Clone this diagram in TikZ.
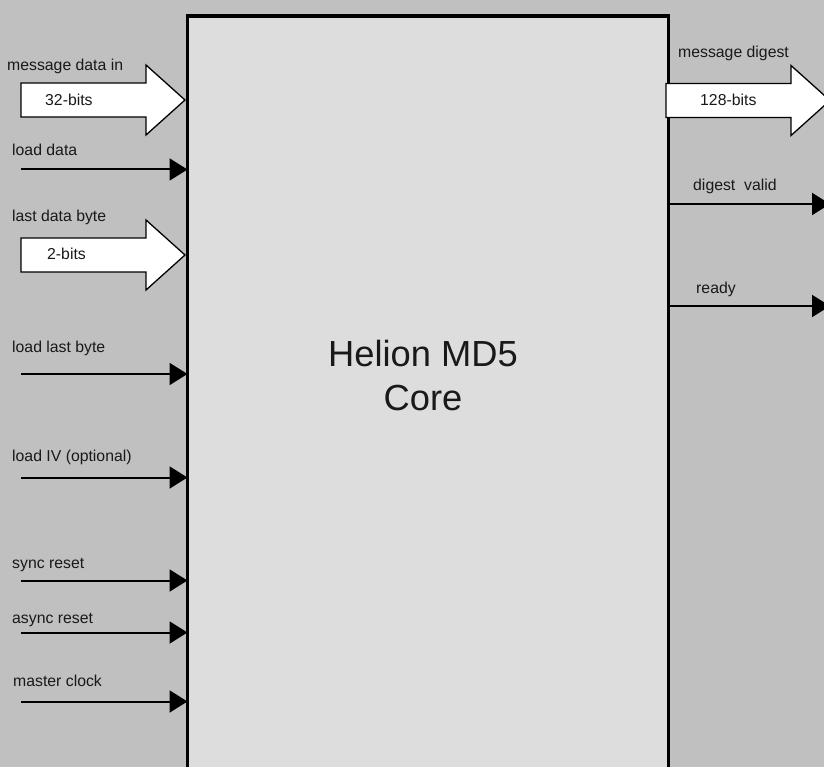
\documentclass[tikz,border=0pt]{standalone}
\usepackage{fontspec}
\setmainfont{Liberation Sans}
\usetikzlibrary{arrows.meta}
\definecolor{bg}{HTML}{C0C0C0}
\definecolor{corefill}{HTML}{DDDDDD}
\begin{document}
\begin{tikzpicture}[x=1pt,y=-1pt,
  lbl/.style={anchor=base west,inner sep=0pt,font=\fontsize{15.8}{19}\selectfont,text=black!90},
  sig/.style={line width=2pt,-{Triangle[length=18pt,width=22pt]}},
  corebox/.style={draw,line width=3.5pt,fill=corefill,anchor=north west,minimum width=481pt,minimum height=800pt,inner sep=0pt,outer sep=0pt},
  bus/.pic={\draw[line width=1.3pt,fill=white,line join=miter]
     (-164,-17) -- (-39,-17) -- (-39,-35) -- (0,0) -- (-39,35) -- (-39,17) -- (-164,17) -- cycle;}
  ]
\useasboundingbox (0,0) rectangle (824,767);
\clip (0,0) rectangle (824,767);
\fill[bg] (0,0) rectangle (824,767);
\node[corebox] (core) at (187.5,16) {};
\node[anchor=base,align=center,inner sep=0pt,font=\fontsize{36.3}{43.3}\selectfont,text=black!90] (title) at (423,410) {Helion MD5\\Core};

% wide bus inputs
\pic at (185,100) {bus};
\node[lbl] (mdin) at (7,70.7) {message data in};
\node[lbl] (w32) at (45,105.4) {32-bits};
\pic at (185,255) {bus};
\node[lbl] (ldb) at (12,221.5) {last data byte};
\node[lbl] (w2) at (47,260) {2-bits};

% wide bus output
\pic at (830,100.5) {bus};
\node[lbl] (mdout) at (678,58) {message digest};
\node[lbl] (w128) at (700,105.5) {128-bits};

% single inputs
\coordinate (i1) at (21,169.5);
\coordinate (i2) at (21,374);
\coordinate (i3) at (21,477.5);
\coordinate (i4) at (21,580.5);
\coordinate (i5) at (21,632.5);
\coordinate (i6) at (21,701.5);
\draw[sig] (i1) -- (i1 -| core.west);
\draw[sig] (i2) -- (i2 -| core.west);
\draw[sig] (i3) -- (i3 -| core.west);
\draw[sig] (i4) -- (i4 -| core.west);
\draw[sig] (i5) -- (i5 -| core.west);
\draw[sig] (i6) -- (i6 -| core.west);
\node[lbl] (t1) at (12,156) {load data};
\node[lbl] (t2) at (12,352.7) {load last byte};
\node[lbl] (t3) at (12,461.7) {load IV (optional)};
\node[lbl] (t4) at (12,568.3) {sync reset};
\node[lbl] (t5) at (12,623.3) {async reset};
\node[lbl] (t6) at (13,686) {master clock};

% single outputs
\coordinate (o1) at (830,204);
\coordinate (o2) at (830,306);
\draw[sig] (o1 -| core.east) -- (o1);
\draw[sig] (o2 -| core.east) -- (o2);
\node[lbl] (t7) at (693,190.7) {digest\ \ valid};
\node[lbl] (t8) at (696,293.3) {ready};
\end{tikzpicture}
\end{document}
